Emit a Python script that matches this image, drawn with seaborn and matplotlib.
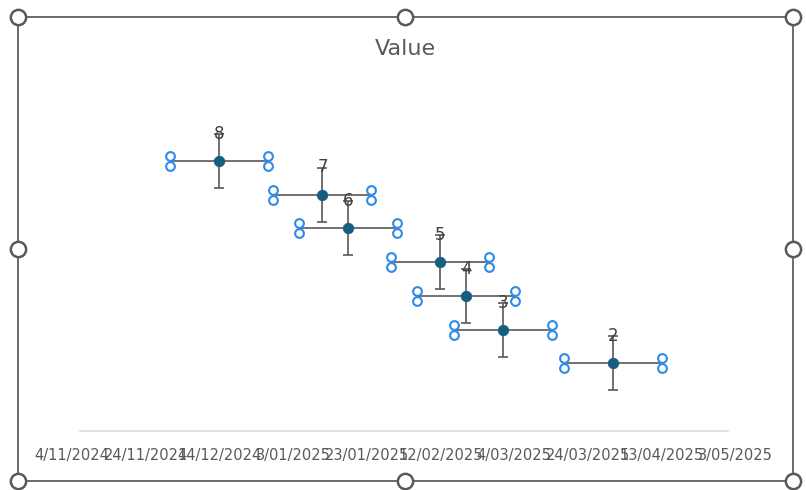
## Excel-style scatter with x/y error bars, recreated in seaborn/matplotlib.

import numpy as np
import pandas as pd
import matplotlib
matplotlib.use('Agg')
import matplotlib.pyplot as plt
import matplotlib.dates as mdates
from matplotlib.lines import Line2D
from matplotlib.patches import Rectangle
from matplotlib.transforms import offset_copy
import seaborn as sns

# data
point_dates = ['2024-12-14', '2025-01-11', '2025-01-18', '2025-02-12',
               '2025-02-19', '2025-03-01', '2025-03-31']
values = [8, 7, 6, 5, 4, 3, 2]
x_err_days = [13.3, 13.3, 13.3, 13.3, 13.3, 13.3, 13.3]
y_err = [0.8, 0.8, 0.8, 0.8, 0.8, 0.8, 0.8]

tick_labels = ['4/11/2024', '24/11/2024', '14/12/2024', '3/01/2025', '23/01/2025',
               '12/02/2025', '4/03/2025', '24/03/2025', '13/04/2025', '3/05/2025']
title = 'Value'

W, H = 806, 490

sns.set_theme(style='white')
plt.rcParams['font.family'] = ['DejaVu Sans']

x = mdates.date2num(pd.to_datetime(point_dates))
ticks = mdates.date2num(pd.to_datetime(tick_labels, dayfirst=True))
df = pd.DataFrame({'date': x, 'value': values})

fig = plt.figure(figsize=(W / 100, H / 100), dpi=100)
fig.patch.set_facecolor('white')
ax = fig.add_axes([72 / W, 1 - 431 / H, (735 - 72) / W, (431 - 127) / H])
ax.set_facecolor('white')

err_col = '#595959'
# horizontal bars, no caps
ax.errorbar(x, values, xerr=x_err_days, fmt='none', ecolor=err_col,
            elinewidth=1.2, capsize=0, zorder=2)
# vertical bars with caps
ax.errorbar(x, values, yerr=y_err, fmt='none', ecolor=err_col,
            elinewidth=1.2, capsize=3.6, capthick=1.2, zorder=2)

sns.scatterplot(data=df, x='date', y='value', s=58, color='#155e80',
                edgecolor='#155e80', linewidth=0.5, zorder=3, ax=ax)

# data labels above the points
for xi, v in zip(x, values):
    ax.annotate(str(v), (xi, v), xytext=(0, 19.5), textcoords='offset points',
                ha='center', va='center', fontsize=12, color='#404040', zorder=4)

# selection handles at the error bar ends
ends = np.concatenate([x - np.array(x_err_days), x + np.array(x_err_days)])
end_vals = np.concatenate([values, values])
for dy in (5, -5):
    tr = offset_copy(ax.transData, fig=fig, x=0, y=dy, units='dots')
    ax.plot(ends, end_vals, 'o', ms=6.3, mfc='white', mec='#2e8be6', mew=1.5,
            transform=tr, zorder=5, clip_on=False)

ax.set_xlim(ticks[0], ticks[-1])
ax.set_ylim(0, 9)
ax.set_xticks(ticks)
ax.set_xticklabels(tick_labels)
ax.set_yticks([])
ax.set_xlabel('')
ax.set_ylabel('')
ax.tick_params(axis='x', length=0, pad=12, labelsize=10.5, labelcolor='#595959')
for s in ['top', 'left', 'right']:
    ax.spines[s].set_visible(False)
ax.spines['bottom'].set_color('#d9d9d9')
ax.spines['bottom'].set_linewidth(1.1)
# the axis line in the reference sits a little inside the outer tick labels
ax.spines['bottom'].set_bounds(ticks[0] + 2.2, ticks[-1] - 1.9)

fig.text(405 / W, 1 - 49 / H, title, ha='center', va='center',
         fontsize=16, color='#595959')

# chart frame with selection handles
x0, y0, x1, y1 = 18, 17, 793, 481
fig.add_artist(Rectangle((x0 / W, 1 - y1 / H), (x1 - x0) / W, (y1 - y0) / H,
                         transform=fig.transFigure, fill=False,
                         edgecolor='#6b6b6b', linewidth=1.4))
xm, ym = (x0 + x1) / 2, (y0 + y1) / 2
for hx, hy in [(x0, y0), (xm, y0), (x1, y0), (x0, ym), (x1, ym),
               (x0, y1), (xm, y1), (x1, y1)]:
    fig.add_artist(Line2D([hx / W], [1 - hy / H], marker='o', ms=11,
                          mfc='white', mec='#595959', mew=1.8,
                          transform=fig.transFigure))

fig.savefig('out.png', dpi=100)
